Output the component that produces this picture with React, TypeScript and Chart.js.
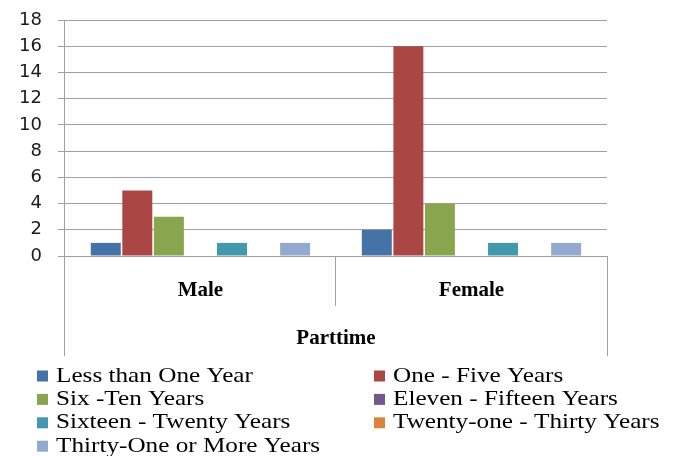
import React, { useEffect, useRef } from "react";
import { Chart, registerables } from "chart.js";

Chart.register(...registerables);

const categories = ["Male", "Female"];
const axisGroupTitle = "Parttime";
const seriesLabels = [
  "Less than One Year",
  "One - Five Years",
  "Six -Ten Years",
  "Eleven - Fifteen Years",
  "Sixteen - Twenty Years",
  "Twenty-one - Thirty Years",
  "Thirty-One or More Years",
];
const lessThanOne = [1, 2];
const oneToFive = [5, 16];
const sixToTen = [3, 4];
const elevenToFifteen = [0, 0];
const sixteenToTwenty = [1, 1];
const twentyOneToThirty = [0, 0];
const thirtyOnePlus = [1, 1];
const seriesColors = ["#4572A7", "#AA4643", "#89A54E", "#71588F", "#4198AF", "#DB843D", "#93A9CF"];
const yMax = 18;
const yStep = 2;

const columnLegend = {
  id: "columnLegend",
  afterDraw(chart: any) {
    const ctx = chart.ctx;
    const bottom = chart.scales.x2.bottom;
    const top = bottom + 20;
    const colX = [37, 374];
    const stretch = 1.2;
    ctx.save();
    ctx.font = '21px "Liberation Serif"';
    ctx.textBaseline = "middle";
    ctx.textAlign = "left";
    chart.data.datasets.forEach((ds: any, i: number) => {
      const col = i % 2;
      const row = Math.floor(i / 2);
      const x = colX[col];
      const y = top + row * 23.4;
      ctx.fillStyle = ds.backgroundColor;
      ctx.fillRect(x, y - 5.5, 11, 11);
      ctx.fillStyle = "#000";
      ctx.save();
      ctx.translate(x + 19, y);
      ctx.scale(stretch, 1);
      ctx.fillText(ds.label, 0, 0);
      ctx.restore();
    });
    ctx.restore();
  },
};

export default function App() {
  const ref = useRef<HTMLCanvasElement>(null);
  useEffect(() => {
    if (!ref.current) return;
    const values = [lessThanOne, oneToFive, sixToTen, elevenToFifteen, sixteenToTwenty, twentyOneToThirty, thirtyOnePlus];
    const gridGray = "#a0a0a0";
    const catFont = { family: '"Liberation Serif"', size: 21, weight: "bold" as const };
    const chart = new Chart(ref.current, {
      type: "bar",
      data: {
        labels: categories,
        datasets: values.map((v, i) => ({
          label: seriesLabels[i],
          data: v,
          backgroundColor: seriesColors[i],
          borderWidth: 0,
          barPercentage: 0.95,
          categoryPercentage: 0.815,
        })),
      },
      options: {
        animation: false,
        responsive: true,
        maintainAspectRatio: false,
        layout: { padding: { top: 10, left: 3, right: 69, bottom: 100 } },
        plugins: { legend: { display: false }, tooltip: { enabled: false } },
        scales: {
          x: {
            weight: 0,
            grid: {
              offset: true,
              drawOnChartArea: false,
              drawTicks: true,
              tickLength: 50,
              color: gridGray,
            },
            border: { display: true, color: gridGray },
            ticks: { padding: -28, color: "#000", font: catFont },
            title: {
              display: true,
              text: " ",
              color: "rgba(0,0,0,0)",
              font: { size: 10 },
              padding: { top: 0, bottom: 18.8 },
            },
          },
          x2: {
            type: "category",
            position: "bottom",
            weight: 1,
            labels: [axisGroupTitle],
            offset: true,
            grid: {
              offset: true,
              drawOnChartArea: false,
              drawTicks: true,
              tickLength: 50,
              color: gridGray,
            },
            border: { display: false },
            ticks: { padding: -30, color: "#000", font: catFont },
            title: {
              display: true,
              text: " ",
              color: "rgba(0,0,0,0)",
              font: { size: 10 },
              padding: { top: 0, bottom: 22.8 },
            },
          },
          y: {
            min: 0,
            max: yMax,
            grid: { color: gridGray, tickLength: 7 },
            border: { display: true, color: gridGray },
            ticks: {
              stepSize: yStep,
              autoSkip: false,
              padding: 16,
              color: "#1a1a1a",
              font: { family: '"DejaVu Sans"', size: 18, lineHeight: 0.45 },
            },
          },
        },
      },
      plugins: [columnLegend],
    });
    return () => chart.destroy();
  }, []);
  return (
    <div style={{ position: "absolute", left: 0, top: 0, width: 676, height: 456, background: "#fff" }}>
      <canvas ref={ref} />
    </div>
  );
}
